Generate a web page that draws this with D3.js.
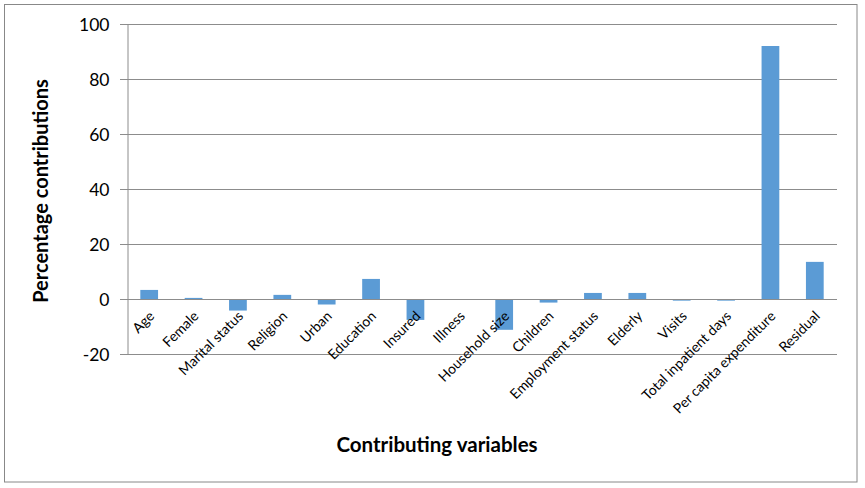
<!DOCTYPE html>
<html><head><meta charset="utf-8">
<script src="https://cdn.jsdelivr.net/npm/d3@7"></script>
<style>body{margin:0;background:#fff;} svg{display:block;}</style>
</head><body>
<svg id="c" width="865" height="488"></svg>
<script>
const categories = ["Age","Female","Marital status","Religion","Urban","Education","Insured","Illness","Household size","Children","Employment status","Elderly","Visits","Total inpatient days","Per capita expenditure","Residual"];
const values = [3.3,0.4,-4.2,1.5,-2.0,7.3,-7.6,0,-11.2,-1.3,2.2,2.2,-0.6,-0.6,92,13.5];
const yTicks = [-20,0,20,40,60,80,100];
const xTitle = "Contributing variables";
const yTitle = "Percentage contributions";

const svg = d3.select("#c");
const font = "Lato, 'Liberation Sans', sans-serif";
svg.append("rect").attr("x",4.5).attr("y",4.5).attr("width",852.5).attr("height",477.5)
  .attr("fill","#fff").attr("stroke","#888").attr("stroke-width",1);

const L=127, R=837, T=24, B=354;
const x = d3.scaleBand().domain(categories).range([L,R]).paddingInner(0.6).paddingOuter(0.3);
const y = d3.scaleLinear().domain([-20,100]).range([B,T]);

// gridlines
svg.append("g").selectAll("line").data(yTicks).join("line")
  .attr("x1",L-7).attr("x2",R).attr("y1",d=>Math.round(y(d))+0.5).attr("y2",d=>Math.round(y(d))+0.5)
  .attr("stroke","#8c8c8c").attr("stroke-width",1);

// y axis
const yAxis = d3.axisLeft(y).tickValues(yTicks).tickSize(0).tickPadding(18).tickFormat(d=>String(d));
const gy = svg.append("g").attr("transform",`translate(${L+0.5},0.5)`).call(yAxis);
gy.select(".domain").attr("stroke","#8c8c8c");
gy.selectAll("text").attr("font-family",font).attr("font-size",17.5).attr("fill","#000");

// bars
svg.append("g").selectAll("rect").data(values).join("rect")
  .attr("x",(d,i)=>x(categories[i]))
  .attr("width",x.bandwidth())
  .attr("y",d=>y(Math.max(0,d)))
  .attr("height",d=>Math.abs(y(d)-y(0)))
  .attr("fill","#5b9bd5");

// zero line on top
svg.append("line").attr("x1",L).attr("x2",R).attr("y1",Math.round(y(0))+0.5).attr("y2",Math.round(y(0))+0.5)
  .attr("stroke","#8c8c8c");

// x labels
svg.append("g").selectAll("text").data(categories).join("text")
  .attr("transform",d=>`translate(${x(d)+x.bandwidth()/2+6},${y(0)+18}) rotate(-45)`)
  .attr("text-anchor","end")
  .attr("font-family",font).attr("font-size",14).attr("fill","#000")
  .text(d=>d);

svg.append("text").attr("x",437).attr("y",452).attr("text-anchor","middle")
  .attr("font-family",font).attr("font-weight","bold").attr("font-size",20.5).text(xTitle);
svg.append("text").attr("transform","translate(48,191) rotate(-90)").attr("text-anchor","middle")
  .attr("font-family",font).attr("font-weight","bold").attr("font-size",20).text(yTitle);
</script>
</body></html>
